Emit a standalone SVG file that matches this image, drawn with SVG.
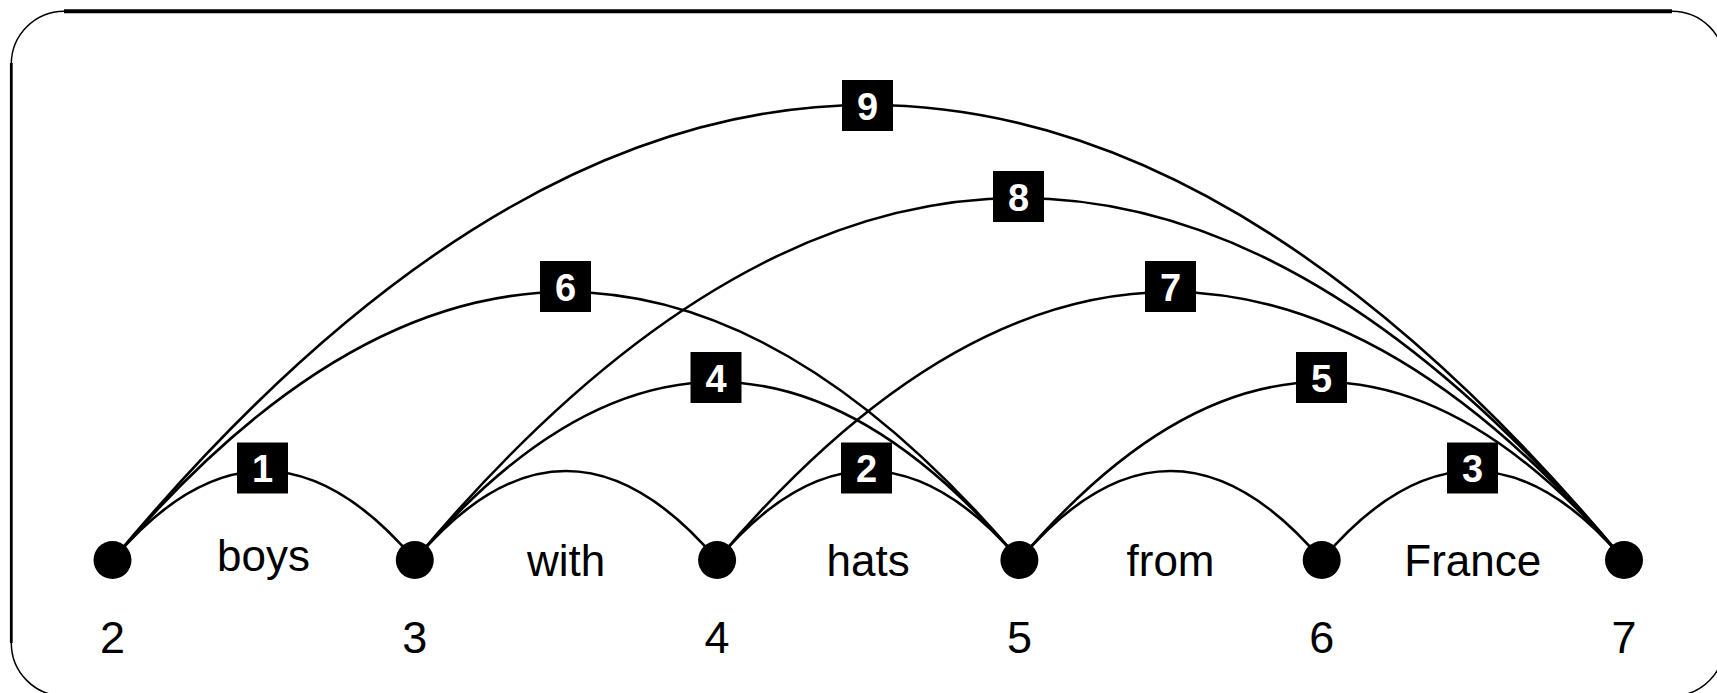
<svg xmlns="http://www.w3.org/2000/svg" width="1717" height="693" viewBox="0 0 1717 693">
<style>
.frame{fill:none;stroke:#000}
.arc{fill:none;stroke:#000;stroke-width:2.6}
.node{fill:#000}
.word{font-family:"Liberation Sans",Arial,sans-serif;font-size:44px;fill:#000;text-anchor:middle}
.num{font-family:"Liberation Sans",Arial,sans-serif;font-size:45px;fill:#000;text-anchor:middle}
.lbox{fill:#000}
.ltxt{font-family:"Liberation Sans",Arial,sans-serif;font-size:38px;font-weight:bold;fill:#fff;text-anchor:middle}
</style>
<rect width="1717" height="693" fill="#fff"/>
<g id="frame">
<path class="frame" stroke-width="4" d="M64 11.2 H1672"/>
<path class="frame" stroke-width="2.8" d="M11.3 63 V643"/>
<path class="frame" stroke-width="1.5" d="M11.3 64 A53 53 0 0 1 64 11.2 M1672 11.2 A53 53 0 0 1 1725 64 M1672 696 A53 53 0 0 0 1725 643 M11.3 643 A53 53 0 0 0 64 696"/>
</g>
<g id="connectors">
<path class="arc" d="M112.5 560 Q263.6 382 414.8 560"/>
<path class="arc" d="M414.8 560 Q566 382 717.1 560"/>
<path class="arc" d="M717.1 560 Q868.2 382 1019.4 560"/>
<path class="arc" d="M1019.4 560 Q1170.5 382 1321.7 560"/>
<path class="arc" d="M1321.7 560 Q1472.8 382 1624 560"/>
<path class="arc" d="M414.8 560 Q717.1 204 1019.4 560"/>
<path class="arc" d="M1019.4 560 Q1321.7 204 1624 560"/>
<path class="arc" d="M112.5 560 Q566 24 1019.4 560"/>
<path class="arc" d="M717.1 560 Q1170.5 24 1624 560"/>
<path class="arc" d="M414.8 560 Q1019.4 -164 1624 560"/>
<path class="arc" d="M112.5 560 Q868.2 -350 1624 560"/>
</g>
<g id="labels">
<g id="label1"><rect class="lbox" x="237" y="442.5" width="51" height="51"/><text class="ltxt" x="262.5" y="482">1</text></g>
<g id="label2"><rect class="lbox" x="841" y="442.5" width="51" height="51"/><text class="ltxt" x="866.5" y="482">2</text></g>
<g id="label3"><rect class="lbox" x="1447" y="442.5" width="51" height="51"/><text class="ltxt" x="1472.5" y="482">3</text></g>
<g id="label4"><rect class="lbox" x="690.5" y="352" width="51" height="51"/><text class="ltxt" x="716" y="391.5">4</text></g>
<g id="label5"><rect class="lbox" x="1296" y="352" width="51" height="51"/><text class="ltxt" x="1321.5" y="391.5">5</text></g>
<g id="label6"><rect class="lbox" x="540" y="261" width="51" height="51"/><text class="ltxt" x="565.5" y="300.5">6</text></g>
<g id="label7"><rect class="lbox" x="1145" y="261" width="51" height="51"/><text class="ltxt" x="1170.5" y="300.5">7</text></g>
<g id="label8"><rect class="lbox" x="993" y="171" width="51" height="51"/><text class="ltxt" x="1018.5" y="210.5">8</text></g>
<g id="label9"><rect class="lbox" x="842" y="80" width="51" height="51"/><text class="ltxt" x="867.5" y="119.5">9</text></g>
</g>
<g id="node2"><circle class="node" cx="112.5" cy="560" r="19"/><text class="num" x="112.5" y="653">2</text></g>
<g id="node3"><circle class="node" cx="414.8" cy="560" r="19"/><text class="num" x="414.8" y="653">3</text></g>
<g id="node4"><circle class="node" cx="717.1" cy="560" r="19"/><text class="num" x="717.1" y="653">4</text></g>
<g id="node5"><circle class="node" cx="1019.4" cy="560" r="19"/><text class="num" x="1019.4" y="653">5</text></g>
<g id="node6"><circle class="node" cx="1321.7" cy="560" r="19"/><text class="num" x="1321.7" y="653">6</text></g>
<g id="node7"><circle class="node" cx="1624" cy="560" r="19"/><text class="num" x="1624" y="653">7</text></g>
<g id="words">
<text class="word" x="263.6" y="571">boys</text>
<text class="word" x="566" y="576">with</text>
<text class="word" x="868.2" y="576">hats</text>
<text class="word" x="1170.5" y="576">from</text>
<text class="word" x="1472.8" y="576">France</text>
</g>
</svg>
